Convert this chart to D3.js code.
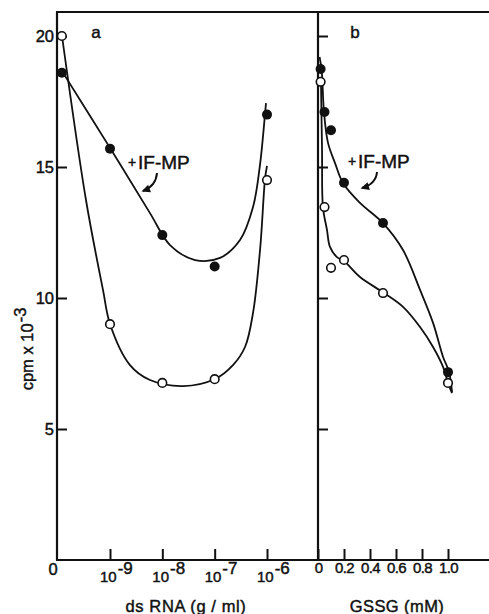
<!DOCTYPE html>
<html><head><meta charset="utf-8">
<script src="https://cdn.jsdelivr.net/npm/d3@7"></script>
<style>
body{margin:0;background:#fff}
svg{display:block}
text{font-family:"Liberation Sans",Arial,Helvetica,sans-serif;fill:#111;stroke:#111;stroke-width:0.45px}
</style></head>
<body>
<svg id="chart" width="489" height="614"></svg>
<script>
// ---------- data (panel a: log10 of dsRNA dose; control = no dsRNA plotted at left) ----------
const dsRnaLog = [-9.92, -9, -8, -7, -6];
const dsRnaWithIF = [18.6, 15.7, 12.4, 11.2, 17.0];     // filled circles (+IF-MP)
const dsRnaWithout = [20.0, 9.0, 6.76, 6.9, 14.5];     // open circles
const dsRnaTickExp = [-9, -8, -7, -6];

// hand-drawn fitted curves (log10 dose, cpm x 10^-3)
const fitA_IF_x = [-9.917, -9.0, -8.236, -7.853, -7.376, -6.898, -6.516, -6.267, -6.134, -6.038, -6.019];
const fitA_IF_y = [18.66, 15.73, 13.24, 12.02, 11.45, 11.53, 12.21, 13.47, 15.08, 17.02, 17.44];
const fitA_x = [-9.917, -9.459, -9.134, -9.0, -8.618, -8.236, -7.6, -6.994, -6.65, -6.42, -6.267, -6.13, -6.038, -6.0];
const fitA_y = [20.0, 13.74, 10.31, 9.01, 7.44, 6.87, 6.64, 6.91, 7.44, 8.13, 9.43, 11.9, 14.54, 15.04];

// panel b: GSSG (mM)
const gssg = [0.02, 0.05, 0.1, 0.2, 0.5, 1.0];
const gssgWithIF = [18.74, 17.1, 16.4, 14.4, 12.86, 7.17];
const gssgWithout = [18.25, 13.47, 11.15, 11.45, 10.19, 6.76];
const gssgTicks = [0, 0.2, 0.4, 0.6, 0.8, 1.0];

const fitB_IF_x = [0.012, 0.028, 0.046, 0.077, 0.131, 0.192, 0.323, 0.5, 0.654, 0.785, 0.885, 0.962, 1.008, 1.031];
const fitB_IF_y = [19.2, 18.7, 17.10, 15.92, 15.15, 14.39, 13.63, 12.86, 11.83, 10.31, 9.05, 7.75, 7.18, 6.41];
const fitB_x = [0.023, 0.031, 0.038, 0.069, 0.092, 0.146, 0.2, 0.323, 0.508, 0.654, 0.785, 0.885, 0.962, 1.0, 1.031];
const fitB_y = [18.24, 15.65, 13.47, 12.60, 11.95, 11.56, 11.41, 10.80, 10.19, 9.66, 8.89, 8.13, 7.37, 6.76, 6.37];

const yTicks = [5, 10, 15, 20];

// ---------- layout ----------
const svg = d3.select("#chart");
const W = 489, frameTop = 12, frameBottom = 560, leftA = 57, leftB = 318;

const y = d3.scaleLinear().domain([0, 20]).range([frameBottom, 36]);
const xA = d3.scaleLinear().domain([-9, -6]).range([110, 267]);
const xB = d3.scaleLinear().domain([0, 1]).range([leftB, 448]);

const ink = "#111";

// frame lines
const frame = svg.append("g").attr("stroke", ink).attr("stroke-width", 2.2).attr("fill", "none");
frame.append("line").attr("x1", leftA - 1).attr("x2", W).attr("y1", frameTop).attr("y2", frameTop);
frame.append("line").attr("x1", leftA - 1).attr("x2", W).attr("y1", frameBottom).attr("y2", frameBottom);
frame.append("line").attr("x1", leftA).attr("x2", leftA).attr("y1", frameTop).attr("y2", frameBottom);
frame.append("line").attr("x1", leftB).attr("x2", leftB).attr("y1", frameTop).attr("y2", frameBottom);

// y axis panel a (ticks inward, labels left)
const yAxA = svg.append("g").attr("transform", `translate(${leftA},0)`)
  .call(d3.axisLeft(y).tickValues(yTicks).tickSizeInner(-10).tickSizeOuter(0).tickPadding(3));
yAxA.select(".domain").remove();
yAxA.selectAll("line").attr("stroke", ink).attr("stroke-width", 2);
yAxA.selectAll("text").attr("font-size", 16.5).attr("font-family", null).attr("fill", ink);

// y axis panel b (ticks only)
const yAxB = svg.append("g").attr("transform", `translate(${leftB},0)`)
  .call(d3.axisRight(y).tickValues(yTicks).tickSize(10).tickFormat(""));
yAxB.select(".domain").remove();
yAxB.selectAll("line").attr("stroke", ink).attr("stroke-width", 2);

// x axis panel a
const xAxA = svg.append("g").attr("transform", `translate(0,${frameBottom})`)
  .call(d3.axisBottom(xA).tickValues(dsRnaTickExp).tickSizeInner(-11).tickSizeOuter(0).tickFormat(""));
xAxA.select(".domain").remove();
xAxA.selectAll("line").attr("stroke", ink).attr("stroke-width", 2);
const tlA = svg.append("g").selectAll("text").data(dsRnaTickExp).join("text")
  .attr("x", d => xA(d) - 10).attr("y", 582).attr("font-size", 15);
tlA.append("tspan").text("10");
tlA.append("tspan").attr("dy", -8).attr("dx", 1).attr("font-size", 17).text(d => "-" + Math.abs(d));

svg.append("text").attr("x", 53).attr("y", 575).attr("text-anchor", "middle").attr("font-size", 16.5).text("0");

// x axis panel b
const xAxB = svg.append("g").attr("transform", `translate(0,${frameBottom})`)
  .call(d3.axisBottom(xB).tickValues(gssgTicks).tickSizeInner(-11).tickSizeOuter(0).tickPadding(2)
    .tickFormat(d => d === 0 ? "0" : d3.format(".1f")(d)));
xAxB.select(".domain").remove();
xAxB.selectAll("line").attr("stroke", ink).attr("stroke-width", 2);
xAxB.selectAll("text").attr("font-size", 15).attr("font-family", null).attr("fill", ink).attr("letter-spacing", -0.6);

// axis titles
svg.append("text").attr("transform", "translate(33,349) rotate(-90)").attr("text-anchor", "middle")
  .attr("font-size", 16.5)
  .call(t => { t.append("tspan").text("cpm x 10"); t.append("tspan").attr("dy", -7).attr("dx", 1).text("-3"); });
svg.append("text").attr("x", 186).attr("y", 612).attr("text-anchor", "middle").attr("font-size", 16.5)
  .attr("letter-spacing", 0.6).text("ds RNA (g / ml)");
svg.append("text").attr("x", 397).attr("y", 612).attr("text-anchor", "middle").attr("font-size", 16.5)
  .attr("letter-spacing", 0.4).text("GSSG (mM)");

// panel letters
svg.append("text").attr("x", 96).attr("y", 38).attr("text-anchor", "middle").attr("font-size", 17).text("a");
svg.append("text").attr("x", 355).attr("y", 38).attr("text-anchor", "middle").attr("font-size", 17).text("b");

// curves
const lineA = d3.line().x(d => xA(d[0])).y(d => y(d[1])).curve(d3.curveCatmullRom.alpha(0.5));
const lineB = d3.line().x(d => xB(d[0])).y(d => y(d[1])).curve(d3.curveCatmullRom.alpha(0.5));
const zip = (a, b) => a.map((v, i) => [v, b[i]]);
const curves = svg.append("g").attr("fill", "none").attr("stroke", ink).attr("stroke-width", 1.8);
curves.append("path").attr("d", lineA(zip(fitA_IF_x, fitA_IF_y)));
curves.append("path").attr("d", lineA(zip(fitA_x, fitA_y)));
curves.append("path").attr("d", lineB(zip(fitB_IF_x, fitB_IF_y)));
curves.append("path").attr("d", lineB(zip(fitB_x, fitB_y)));

// markers
const mk = svg.append("g");
mk.selectAll(".fa").data(zip(dsRnaLog, dsRnaWithIF)).join("circle")
  .attr("cx", d => xA(d[0])).attr("cy", d => y(d[1])).attr("r", 5).attr("fill", ink);
mk.selectAll(".oa").data(zip(dsRnaLog, dsRnaWithout)).join("circle")
  .attr("cx", d => xA(d[0])).attr("cy", d => y(d[1])).attr("r", 4.3).attr("fill", "#fff").attr("stroke", ink).attr("stroke-width", 1.6);
mk.selectAll(".fb").data(zip(gssg, gssgWithIF)).join("circle")
  .attr("cx", d => xB(d[0])).attr("cy", d => y(d[1])).attr("r", 5).attr("fill", ink);
mk.selectAll(".ob").data(zip(gssg, gssgWithout)).join("circle")
  .attr("cx", d => xB(d[0])).attr("cy", d => y(d[1])).attr("r", 4.3).attr("fill", "#fff").attr("stroke", ink).attr("stroke-width", 1.6);

// annotations "+IF-MP" with curved arrows
function annot(x, yb, ax0, ay0, ax1, ay1, cx, cy) {
  const g = svg.append("g");
  g.append("text").attr("x", x + 3).attr("y", yb - 2).attr("text-anchor", "middle").attr("font-size", 14).text("+");
  g.append("text").attr("x", x + 9).attr("y", yb).attr("font-size", 19).text("IF-MP");
  g.append("path").attr("d", `M${ax0},${ay0} Q${cx},${cy} ${ax1},${ay1}`)
    .attr("fill", "none").attr("stroke", ink).attr("stroke-width", 2);
  const ang = Math.atan2(ay1 - cy, ax1 - cx);
  const L = 7, Wd = 4;
  const bx = ax1 - L * Math.cos(ang), by = ay1 - L * Math.sin(ang);
  const px = -Math.sin(ang) * Wd, py = Math.cos(ang) * Wd;
  g.append("path").attr("d", `M${ax1 + 1.5 * Math.cos(ang)},${ay1 + 1.5 * Math.sin(ang)} L${bx + px},${by + py} L${bx - px},${by - py} Z`).attr("fill", ink);
}
annot(129, 169, 157, 173, 143, 191, 156, 186);
annot(349, 168, 377, 172, 362, 188, 376, 184);
</script>
</body></html>
